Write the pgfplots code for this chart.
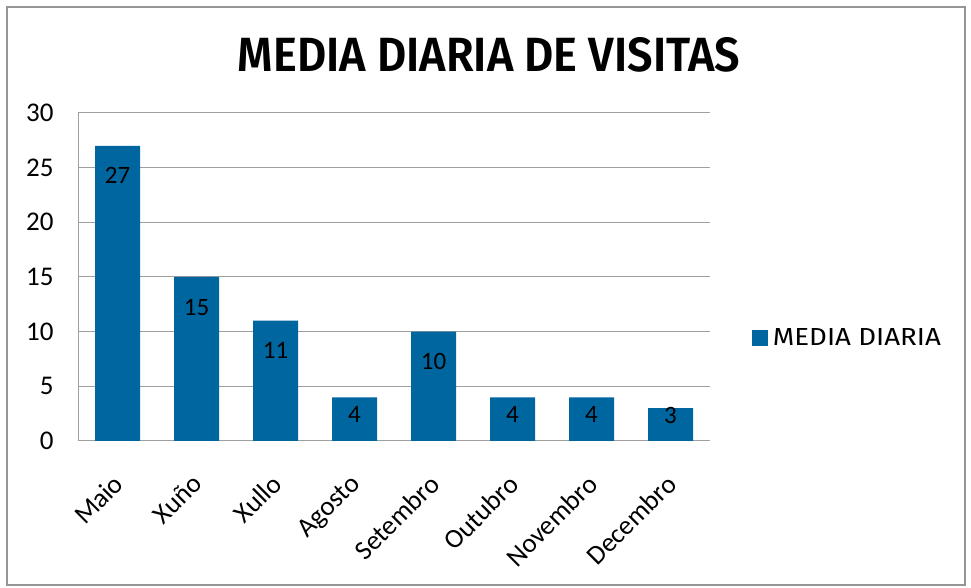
\documentclass[border=0pt]{standalone}
\usepackage{fontspec}
\setmainfont{Carlito}
\newfontfamily\titlefont{Fira Sans}[BoldFont={Fira Sans SemiBold}]
\newfontfamily\legfont{Fira Sans}
\usepackage{graphicx}
\usepackage{pgfplots}
\pgfplotsset{compat=1.18}
\definecolor{barblue}{RGB}{0,102,160}
\definecolor{gridgray}{RGB}{160,160,160}
\definecolor{framegray}{RGB}{150,150,150}
\begin{document}
\begin{tikzpicture}
\path[use as bounding box] (0,0) rectangle (971pt,588pt);
\draw[framegray, line width=2pt] (7pt,3pt) rectangle (965pt,581pt);
\node[anchor=base] at (489pt,516pt) {\resizebox{502pt}{34pt}{\titlefont\bfseries MEDIA DIARIA DE VISITAS}};
\begin{axis}[
    at={(78pt,147pt)}, anchor=south west,
    scale only axis, width=632pt, height=328pt,
    xmin=-0.5, xmax=7.5, ymin=0, ymax=30,
    ytick={0,5,...,30},
    xtick={0,...,7},
    xticklabels={Maio,Xuño,Xullo,Agosto,Setembro,Outubro,Novembro,Decembro},
    x tick label style={rotate=45, anchor=north east, font=\fontsize{27}{27}\selectfont, yshift=-15pt, xshift=-23pt},
    y tick label style={font=\fontsize{27}{27}\selectfont, xshift=-21pt},
    /pgf/number format/assume math mode=true,
    ymajorgrids, grid style={gridgray, line width=1pt},
    axis x line*=bottom, axis y line*=left,
    axis line style={gridgray, line width=1pt},
    major tick length=0pt,
    legend style={at={(1.066,0.314)}, anchor=west, draw=none, fill=none,
        inner sep=0pt},
    legend image code/.code={\fill[barblue] (0pt,-8pt) rectangle (16pt,8pt);},
]
\addplot[ybar, bar width=45pt, fill=barblue, draw=none]
    coordinates {(0,27) (1,15) (2,11) (3,4) (4,10) (5,4) (6,4) (7,3)};
\addlegendentry{\hspace{3pt}\resizebox{168pt}{17pt}{\legfont MEDIA DIARIA}}
\addplot[draw=none, mark=none, forget plot, nodes near coords,
    point meta=explicit symbolic,
    every node near coord/.style={anchor=center, font=\fontsize{25}{25}\selectfont, text=black}]
    coordinates {(0,24.25)[27] (1,12.25)[15] (2,8.25)[11] (3,2.45)[4] (4,7.25)[10] (5,2.45)[4] (6,2.45)[4] (7,2.3)[3]};
\end{axis}
\end{tikzpicture}
\end{document}
